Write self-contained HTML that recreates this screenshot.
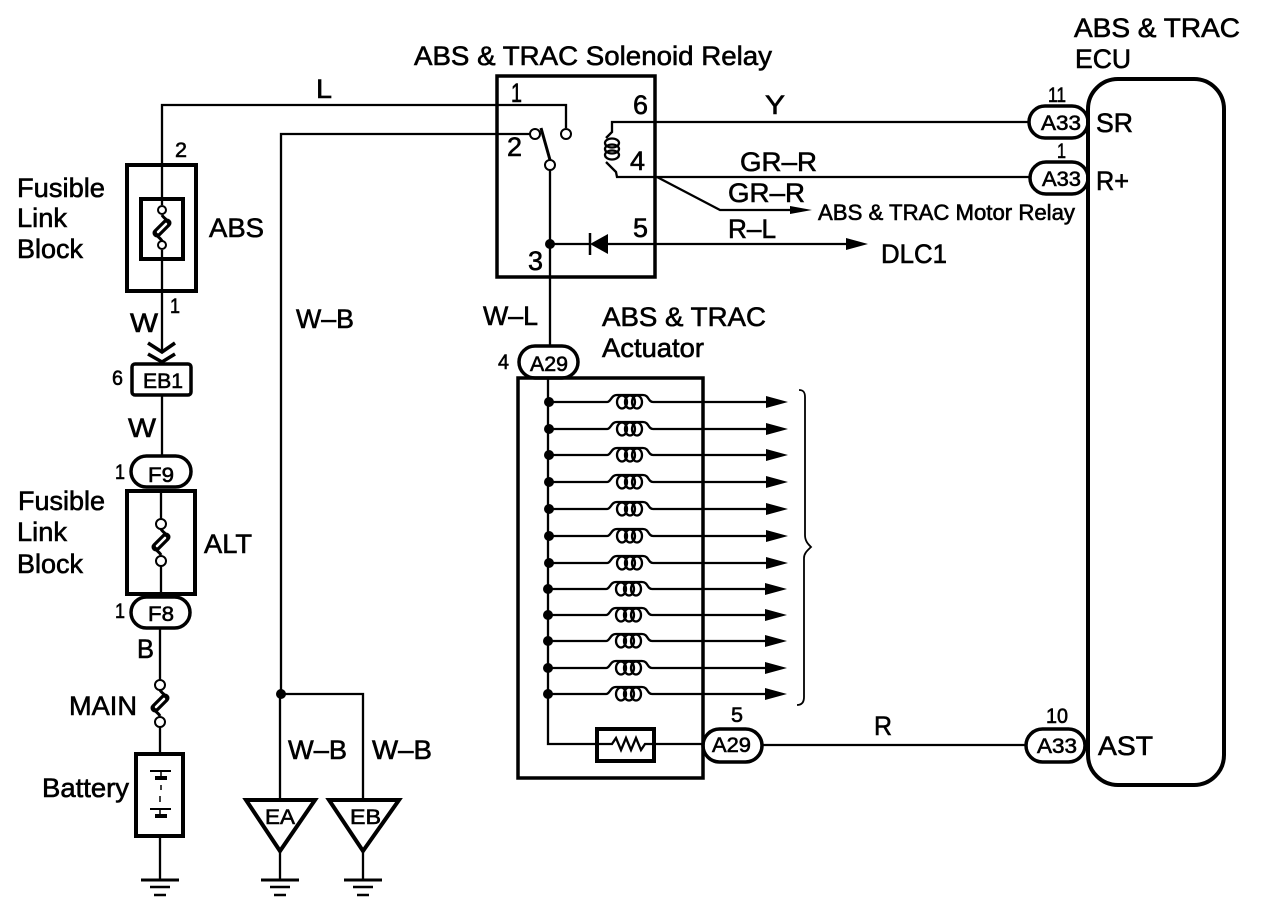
<!DOCTYPE html>
<html><head><meta charset="utf-8"><style>
html,body{margin:0;padding:0;background:#fff}
svg{display:block}
text{font-family:"Liberation Sans",sans-serif;fill:#000;stroke:#000;stroke-width:.6}
.a{font-size:26.5px}.b{font-size:22px}.c{font-size:21px}
.w{fill:none;stroke:#000;stroke-width:2.3}
.t{fill:none;stroke:#000;stroke-width:4}
.m{fill:none;stroke:#000;stroke-width:3.5}
.n{fill:#fff;stroke:#000;stroke-width:2}
</style></head><body>
<svg width="1264" height="908" viewBox="0 0 1264 908" xmlns="http://www.w3.org/2000/svg">
<defs>
<g id="fuse"><path d="M0,-13 C2,-9 7,-8 6,-4 L-5,5 C-7,8 -2,9 0,13" fill="none" stroke="#000" stroke-width="3"/><path d="M5,-5L-5,5" fill="none" stroke="#000" stroke-width="9" stroke-linecap="round"/><path d="M4,-4L-4,4" fill="none" stroke="#fff" stroke-width="2.5" stroke-linecap="round"/></g>
<g id="gnd"><path d="M-19,0H19" stroke="#000" stroke-width="3"/><path d="M-10,7H10" stroke="#000" stroke-width="2.5"/><path d="M-6,15H6" stroke="#000" stroke-width="2.5"/></g>
<g id="row"><circle cx="0" cy="0" r="5" fill="#000"/><path d="M0,0H58C62,0 62,-7 68,-7H94C100,-7 99,0 104,0H219" class="w"/><ellipse cx="73" cy="0" rx="5" ry="6.5" class="w"/><ellipse cx="81" cy="0" rx="5" ry="6.5" class="w"/><ellipse cx="88" cy="0" rx="5" ry="6.5" class="w"/><path d="M217,-6L239,0L217,6Z" fill="#000"/></g>
</defs>

<!-- wires -->
<path class="w" d="M162,165V105H497"/>
<path class="w" d="M497,105H566V128"/>
<path class="w" d="M281,694V134H530"/>
<path class="w" d="M550,170V345"/>
<path class="w" d="M162,165V205M162,250V350M162,395V455"/>
<path class="w" d="M161,490V519M161,566V594M160,627V680M160,727V753M160,836V880"/>
<path class="w" d="M281,694H363V800M280,694V800M280,852V880M363,852V880"/>
<path class="w" d="M1030,122H612V132L606,138M606,162L616,172L617,177H1030"/>
<path class="w" d="M657,177L720,210H795"/>
<path class="w" d="M550,244H590M607,244H850"/>
<path class="w" d="M548,378V744H597M654,744H703M762,745H1027"/>

<!-- relay -->
<rect class="m" x="497" y="76" width="158" height="201"/>
<circle class="n" cx="566" cy="134" r="5"/>
<circle class="n" cx="535" cy="134" r="5"/>
<circle class="n" cx="550" cy="165" r="5"/>
<path d="M541,128L550,160" stroke="#000" stroke-width="3" fill="none"/>
<circle cx="550" cy="244" r="5" fill="#000"/>
<path d="M590,244L608,234V254Z" fill="#000"/><path d="M590,233V255" stroke="#000" stroke-width="2.5"/>
<ellipse class="w" cx="612" cy="143" rx="7" ry="4.5"/><ellipse class="w" cx="612" cy="149" rx="7" ry="4.5"/><ellipse class="w" cx="612" cy="155" rx="7" ry="4.5"/>
<path d="M790,206L812,210L790,214Z" fill="#000"/>
<path d="M846,238L868,244L846,250Z" fill="#000"/>

<!-- left column -->
<rect class="t" x="127" y="165" width="69" height="126"/>
<rect class="t" x="141" y="199" width="42" height="60"/>
<use href="#fuse" x="162" y="228"/>
<circle class="n" cx="162" cy="210" r="4"/><circle class="n" cx="162" cy="245" r="4"/>
<path class="m" d="M148,343L162,352L175,343M148,354L162,362L175,354"/>
<rect class="m" x="132" y="364" width="59" height="31" rx="3"/>
<rect class="m" x="131" y="456" width="60" height="31" rx="15.5"/>
<rect class="t" x="127" y="491" width="68" height="103"/>
<use href="#fuse" x="161" y="542"/>
<circle class="n" cx="161" cy="524" r="5"/><circle class="n" cx="161" cy="561" r="5"/>
<rect class="m" x="131" y="597" width="59" height="31" rx="15.5"/>
<use href="#fuse" x="160" y="703"/>
<circle class="n" cx="160" cy="685" r="5"/><circle class="n" cx="160" cy="722" r="5"/>
<rect class="t" x="136" y="754" width="47" height="82"/>
<path d="M150,771H171M150,809H171" stroke="#000" stroke-width="2"/>
<path d="M155,778H167M155,816H167" stroke="#000" stroke-width="4"/>
<path d="M161,771V778M161,785V790M160,796V802M160,809V816" stroke="#000" stroke-width="1.5"/>
<use href="#gnd" x="160" y="880"/>
<circle cx="281" cy="694" r="5" fill="#000"/>
<path class="t" d="M246,800H315L280,851Z"/>
<path class="t" d="M329,800H399L363,851Z"/>
<use href="#gnd" x="280" y="880"/>
<use href="#gnd" x="363" y="880"/>

<!-- actuator -->
<rect class="m" x="518" y="378" width="185" height="400"/>
<use href="#row" x="549" y="402"/><use href="#row" x="549" y="429"/><use href="#row" x="549" y="455"/><use href="#row" x="549" y="482"/>
<use href="#row" x="549" y="509"/><use href="#row" x="549" y="536"/><use href="#row" x="549" y="563"/><use href="#row" x="548" y="589"/>
<use href="#row" x="548" y="615"/><use href="#row" x="548" y="641"/><use href="#row" x="548" y="668"/><use href="#row" x="548" y="694"/>
<rect class="t" x="597" y="729" width="57" height="32" fill="#fff"/>
<path class="w" d="M599,744H612L616,738L621,750L626,738L631,750L636,738L641,750L645,744H654"/>
<path d="M799,390C804,390 805,393 805,397V535C805,541 808,544 811,547C808,550 804,553 804,558V697C804,702 802,705 797,705" fill="none" stroke="#000" stroke-width="1.8"/>
<rect class="m" x="519" y="346" width="59" height="32" rx="16" fill="#fff"/>
<rect class="m" x="703" y="729" width="59" height="33" rx="16.5" fill="#fff"/>

<!-- ECU -->
<rect class="t" x="1088" y="79" width="136" height="706" rx="30"/>
<rect class="m" x="1029" y="106" width="59" height="32" rx="16" fill="#fff"/>
<rect class="m" x="1030" y="162" width="58" height="32" rx="16" fill="#fff"/>
<rect class="m" x="1026" y="729" width="59" height="33" rx="16.5" fill="#fff"/>

<!-- labels -->
<text class="a" x="414" y="65" textLength="358" lengthAdjust="spacingAndGlyphs">ABS &amp; TRAC Solenoid Relay</text>
<text class="a" x="1074" y="37" textLength="166" lengthAdjust="spacingAndGlyphs">ABS &amp; TRAC</text>
<text class="a" x="1075" y="68" textLength="56" lengthAdjust="spacingAndGlyphs">ECU</text>
<text class="a" x="316" y="98" textLength="16" lengthAdjust="spacingAndGlyphs">L</text>
<text class="a" x="765" y="114" textLength="20" lengthAdjust="spacingAndGlyphs">Y</text>
<text class="a" x="740" y="171" textLength="77" lengthAdjust="spacingAndGlyphs">GR–R</text>
<text class="a" x="728" y="202" textLength="77" lengthAdjust="spacingAndGlyphs">GR–R</text>
<text class="a" x="728" y="238" textLength="48" lengthAdjust="spacingAndGlyphs">R–L</text>
<text class="b" x="818" y="220" textLength="257" lengthAdjust="spacingAndGlyphs">ABS &amp; TRAC Motor Relay</text>
<text class="a" x="881" y="263" textLength="66" lengthAdjust="spacingAndGlyphs">DLC1</text>
<text class="a" x="511" y="102" textLength="11" lengthAdjust="spacingAndGlyphs">1</text>
<text class="a" x="633" y="114" textLength="15" lengthAdjust="spacingAndGlyphs">6</text>
<text class="a" x="507" y="156" textLength="15" lengthAdjust="spacingAndGlyphs">2</text>
<text class="a" x="630" y="170" textLength="15" lengthAdjust="spacingAndGlyphs">4</text>
<text class="a" x="633" y="237" textLength="15" lengthAdjust="spacingAndGlyphs">5</text>
<text class="a" x="528" y="270" textLength="15" lengthAdjust="spacingAndGlyphs">3</text>
<text class="a" x="296" y="328" textLength="58" lengthAdjust="spacingAndGlyphs">W–B</text>
<text class="a" x="483" y="325" textLength="55" lengthAdjust="spacingAndGlyphs">W–L</text>
<text class="a" x="602" y="326" textLength="164" lengthAdjust="spacingAndGlyphs">ABS &amp; TRAC</text>
<text class="a" x="602" y="357" textLength="102" lengthAdjust="spacingAndGlyphs">Actuator</text>
<text class="a" x="17" y="197" textLength="88" lengthAdjust="spacingAndGlyphs">Fusible</text>
<text class="a" x="17" y="227" textLength="50" lengthAdjust="spacingAndGlyphs">Link</text>
<text class="a" x="17" y="258" textLength="66" lengthAdjust="spacingAndGlyphs">Block</text>
<text class="a" x="209" y="237" textLength="55" lengthAdjust="spacingAndGlyphs">ABS</text>
<text class="c" x="175" y="157" textLength="12" lengthAdjust="spacingAndGlyphs">2</text>
<text class="c" x="170" y="313" textLength="10" lengthAdjust="spacingAndGlyphs">1</text>
<text class="a" x="130" y="332" textLength="28" lengthAdjust="spacingAndGlyphs">W</text>
<text class="c" x="112" y="385" textLength="11" lengthAdjust="spacingAndGlyphs">6</text>
<text class="c" x="143" y="388" textLength="40" lengthAdjust="spacingAndGlyphs">EB1</text>
<text class="a" x="128" y="437" textLength="28" lengthAdjust="spacingAndGlyphs">W</text>
<text class="c" x="115" y="479" textLength="10" lengthAdjust="spacingAndGlyphs">1</text>
<text class="c" x="148" y="482" textLength="26" lengthAdjust="spacingAndGlyphs">F9</text>
<text class="a" x="18" y="510" textLength="87" lengthAdjust="spacingAndGlyphs">Fusible</text>
<text class="a" x="17" y="541" textLength="50" lengthAdjust="spacingAndGlyphs">Link</text>
<text class="a" x="17" y="573" textLength="66" lengthAdjust="spacingAndGlyphs">Block</text>
<text class="a" x="204" y="553" textLength="48" lengthAdjust="spacingAndGlyphs">ALT</text>
<text class="c" x="115" y="618" textLength="10" lengthAdjust="spacingAndGlyphs">1</text>
<text class="c" x="148" y="621" textLength="26" lengthAdjust="spacingAndGlyphs">F8</text>
<text class="a" x="137" y="658" textLength="17" lengthAdjust="spacingAndGlyphs">B</text>
<text class="a" x="69" y="715" textLength="68" lengthAdjust="spacingAndGlyphs">MAIN</text>
<text class="a" x="42" y="797" textLength="87" lengthAdjust="spacingAndGlyphs">Battery</text>
<text class="a" x="288" y="759" textLength="59" lengthAdjust="spacingAndGlyphs">W–B</text>
<text class="a" x="372" y="759" textLength="60" lengthAdjust="spacingAndGlyphs">W–B</text>
<text class="c" x="265" y="824" textLength="30" lengthAdjust="spacingAndGlyphs">EA</text>
<text class="c" x="350" y="824" textLength="31" lengthAdjust="spacingAndGlyphs">EB</text>
<text class="c" x="530" y="371" textLength="38" lengthAdjust="spacingAndGlyphs">A29</text>
<text class="c" x="498" y="369" textLength="11" lengthAdjust="spacingAndGlyphs">4</text>
<text class="c" x="731" y="722" textLength="12" lengthAdjust="spacingAndGlyphs">5</text>
<text class="c" x="712" y="752" textLength="39" lengthAdjust="spacingAndGlyphs">A29</text>
<text class="a" x="874" y="735" textLength="18" lengthAdjust="spacingAndGlyphs">R</text>
<text class="c" x="1041" y="130" textLength="40" lengthAdjust="spacingAndGlyphs">A33</text>
<text class="c" x="1048" y="102" textLength="18" lengthAdjust="spacingAndGlyphs">11</text>
<text class="c" x="1057" y="158" textLength="9" lengthAdjust="spacingAndGlyphs">1</text>
<text class="c" x="1042" y="186" textLength="39" lengthAdjust="spacingAndGlyphs">A33</text>
<text class="a" x="1096" y="132" textLength="37" lengthAdjust="spacingAndGlyphs">SR</text>
<text class="a" x="1096" y="190" textLength="33" lengthAdjust="spacingAndGlyphs">R+</text>
<text class="c" x="1037" y="753" textLength="40" lengthAdjust="spacingAndGlyphs">A33</text>
<text class="c" x="1046" y="723" textLength="22" lengthAdjust="spacingAndGlyphs">10</text>
<text class="a" x="1098" y="755" textLength="55" lengthAdjust="spacingAndGlyphs">AST</text>
</svg>
</body></html>
